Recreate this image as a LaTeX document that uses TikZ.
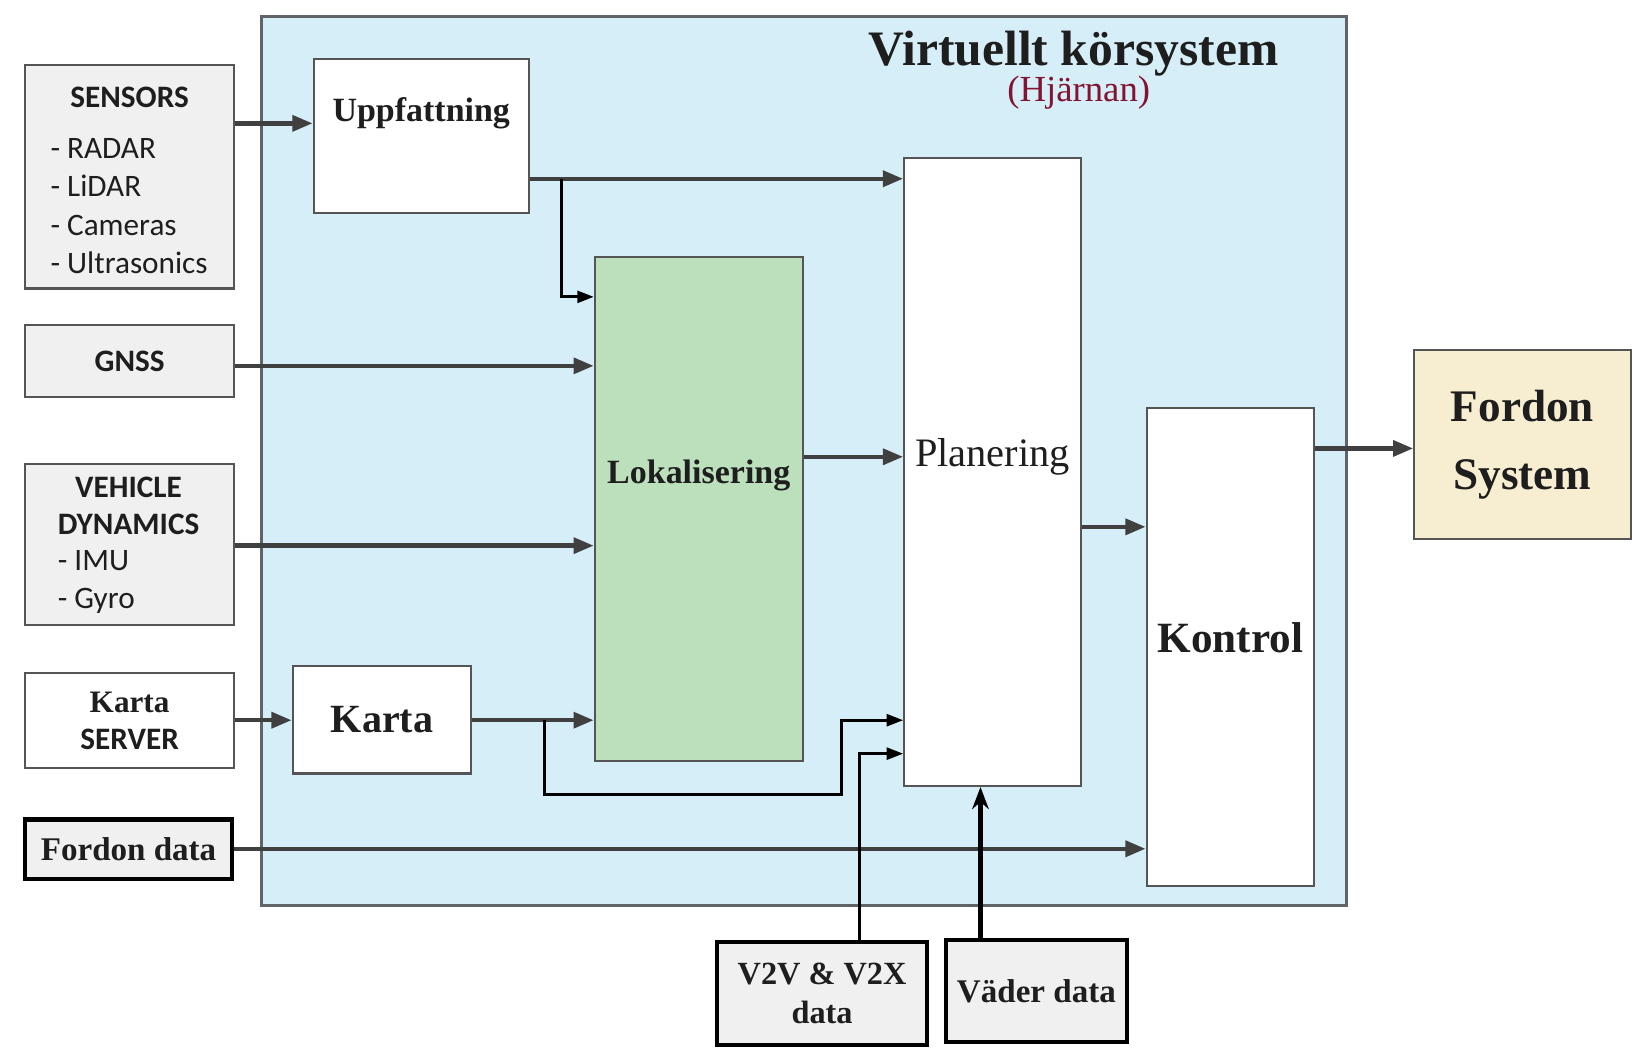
\documentclass[tikz,border=0pt]{standalone}
\usepackage{fontspec}
\setmainfont{Liberation Serif}
\setsansfont{Carlito}
\usepackage{tikz}
\usetikzlibrary{arrows.meta}
\usepackage{xcolor}
\definecolor{brainblue}{RGB}{214,238,248}
\definecolor{framegray}{RGB}{95,100,105}
\definecolor{boxgray}{RGB}{85,85,85}
\definecolor{arrgray}{RGB}{64,64,64}
\definecolor{srcgray}{RGB}{240,240,240}
\definecolor{lokgreen}{RGB}{187,224,187}
\definecolor{fordoncream}{RGB}{247,238,210}
\definecolor{hjred}{RGB}{130,20,50}
\definecolor{txtdark}{RGB}{30,30,30}

\begin{document}
\begin{tikzpicture}[x=0.02cm, y=-0.02cm,
  brain/.style={draw=framegray, line width=1.6pt, fill=brainblue, inner sep=0pt},
  inbox/.style={draw=boxgray, line width=1.1pt, fill=white, inner sep=0pt, text=txtdark},
  srcbox/.style={draw=boxgray, line width=1.3pt, fill=srcgray, inner sep=0pt, text=txtdark},
  extbox/.style={draw=black, line width=2.2pt, fill=srcgray, inner sep=0pt, align=center, text=txtdark},
  sanshead/.style={inner sep=0pt, align=center, text=txtdark, font=\sffamily\bfseries\fontsize{17}{20.5}\selectfont},
  sanslist/.style={inner sep=0pt, align=left, anchor=west, text=txtdark, font=\sffamily\fontsize{17}{20.9}\selectfont},
  arr/.style={draw=arrgray, line width=2.4pt, -{Triangle[length=11pt,width=8.5pt]}},
  blk/.style={draw=black, line width=1.5pt, -{Triangle[length=9pt,width=6.5pt]}},
  blkup/.style={draw=black, line width=2.2pt, -{Stealth[length=12pt,width=9pt]}}]
  \useasboundingbox (0,0) rectangle (1568,1007);

  % rows and columns of the wiring
  \coordinate (rowS) at (0,118);
  \coordinate (rowU) at (0,171);
  \coordinate (rowB) at (0,284);
  \coordinate (rowG) at (0,350);
  \coordinate (rowO) at (0,429);
  \coordinate (rowL) at (0,437);
  \coordinate (rowP) at (0,504);
  \coordinate (rowV) at (0,522);
  \coordinate (rowK) at (0,689);
  \coordinate (rowW) at (0,721);
  \coordinate (rowD) at (0,760);
  \coordinate (rowF) at (0,812);
  \coordinate (colA) at (537,0);
  \coordinate (colB) at (521,0);
  \coordinate (colC) at (805,0);
  \coordinate (colV) at (822,0);
  \coordinate (colW) at (938,0);

  % virtual driving system
  \node[brain, minimum width=20.76cm, minimum height=17cm] (vks) at (769,441) {};
  \node[inner sep=0pt, text=txtdark, font=\bfseries\fontsize{27}{30}\selectfont] (vkstitle) at (1027,51) {Virtuellt körsystem};
  \node[inner sep=0pt, text=hjred, font=\fontsize{20}{22}\selectfont] (hjarna) at (1032,89) {(Hjärnan)};

  % inputs
  \node[srcbox, minimum width=4cm, minimum height=4.28cm] (sensors) at (124,169) {};
  \node[sanshead] (senstitle) at (124,93) {SENSORS};
  \node[sanslist] (senslist) at (48,197) {- RADAR\\- LiDAR\\- Cameras\\- Ultrasonics};
  \node[srcbox, sanshead, inner sep=0pt, minimum width=4cm, minimum height=1.38cm] (gnss) at (124,345.5) {GNSS};
  \node[srcbox, minimum width=4cm, minimum height=3.08cm] (vdyn) at (124,521) {};
  \node[sanshead] (vdyntitle) at (123,484) {VEHICLE\\DYNAMICS};
  \node[sanslist] (vdynlist) at (55,557) {- IMU\\- Gyro};
  \node[srcbox, sanshead, fill=white, minimum width=4cm, minimum height=1.82cm] (kserver) at (124,689.5) {{\rmfamily Karta}\\SERVER};
  \node[extbox, font=\bfseries\fontsize{18}{20}\selectfont, minimum width=3.96cm, minimum height=1.14cm] (fdata) at (123,812.5) {Fordon data};

  % blocks
  \node[inbox, minimum width=4.12cm, minimum height=2.96cm] (upp) at (403,130) {};
  \node[inner sep=0pt, text=txtdark, font=\bfseries\fontsize{18.5}{20}\selectfont] (upptxt) at ([yshift=0.44cm]upp.center) {Uppfattning};
  \node[inbox, fill=lokgreen, minimum width=3.98cm, minimum height=9.64cm] (lok) at (668.5,487) {};
  \node[inner sep=0pt, text=txtdark, font=\bfseries\fontsize{18.5}{20}\selectfont] (loktxt) at ([yshift=0.64cm]lok.center) {Lokalisering};
  \node[inbox, minimum width=3.38cm, minimum height=12.02cm] (plan) at (949.5,451.5) {};
  \node[inner sep=0pt, text=txtdark, font=\fontsize{22}{24}\selectfont] (plantxt) at ([yshift=0.29cm]plan.center) {Planering};
  \node[inbox, font=\bfseries\fontsize{21.8}{24}\selectfont, minimum width=3.42cm, minimum height=2.06cm] (karta) at (365.5,688.5) {Karta};
  \node[inbox, minimum width=3.2cm, minimum height=9.16cm] (kontrol) at (1177,619) {};
  \node[inner sep=0pt, text=txtdark, font=\bfseries\fontsize{23.5}{26}\selectfont] (kontroltxt) at ([yshift=0.18cm]kontrol.center) {Kontrol};
  \node[inbox, fill=fordoncream, align=center, font=\bfseries\fontsize{24.6}{37}\selectfont, minimum width=4.14cm, minimum height=3.62cm] (fsys) at (1456.5,425.5) {Fordon\\System};

  % external data
  \node[extbox, font=\bfseries\fontsize{17.6}{21}\selectfont, minimum width=4.02cm, minimum height=1.98cm] (v2v) at (786.5,950.5) {V2V \& V2X\\data};
  \node[extbox, font=\bfseries\fontsize{18}{20}\selectfont, minimum width=3.46cm, minimum height=1.96cm] (vader) at (991.5,948) {Väder data};

  % connections
  \draw[arr] (sensors.east |- rowS) -- (upp.west |- rowS);
  \draw[arr] (upp.east |- rowU) -- (plan.west |- rowU);
  \draw[blk] (colA |- rowU) |- (lok.west |- rowB);
  \draw[arr] (gnss.east |- rowG) -- (lok.west |- rowG);
  \draw[arr] (vdyn.east |- rowV) -- (lok.west |- rowV);
  \draw[arr] (kserver.east |- rowK) -- (karta.west |- rowK);
  \draw[arr] (karta.east |- rowK) -- (lok.west |- rowK);
  \draw[blk] (colB |- rowK) |- (colC |- rowD) |- (plan.west |- rowK);
  \draw[arr] (lok.east |- rowL) -- (plan.west |- rowL);
  \draw[arr] (fdata.east |- rowF) -- (kontrol.west |- rowF);
  \draw[blk] (colV |- v2v.north) |- (plan.west |- rowW);
  \draw[blkup] (colW |- vader.north) -- (colW |- plan.south);
  \draw[arr] (plan.east |- rowP) -- (kontrol.west |- rowP);
  \draw[arr] (kontrol.east |- rowO) -- (fsys.west |- rowO);
\end{tikzpicture}
\end{document}
